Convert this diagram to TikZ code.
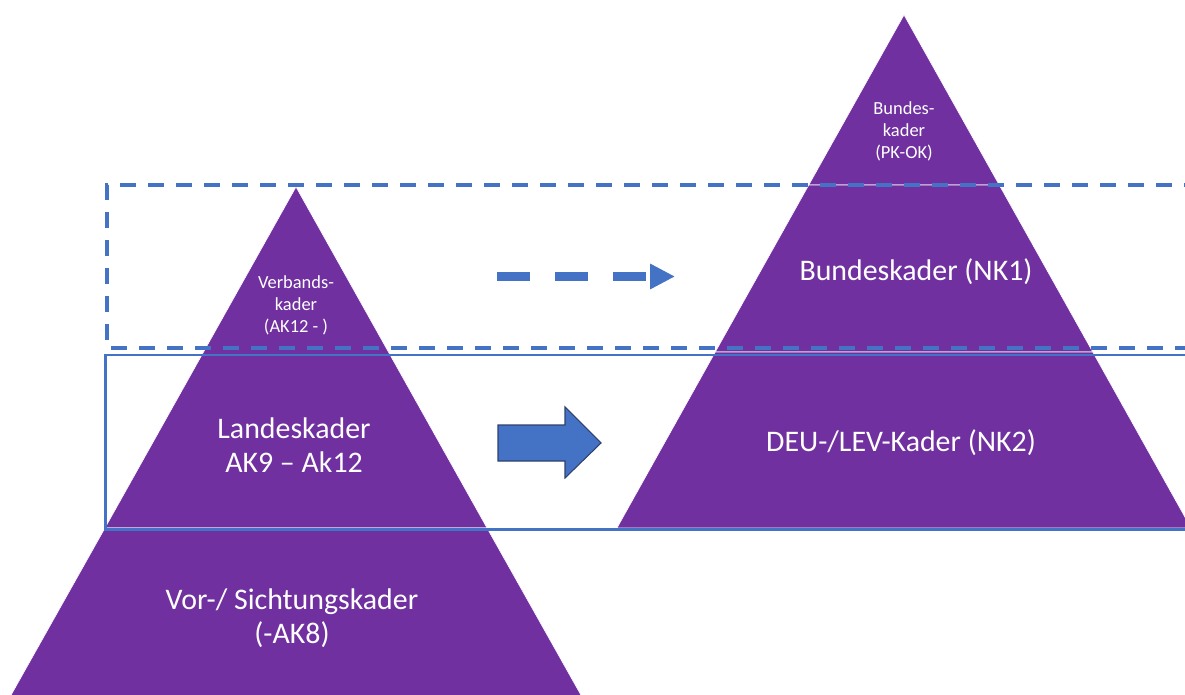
\documentclass[tikz,border=0pt]{standalone}
\usepackage{fontspec}
\setmainfont{Carlito}
\usepackage{tikz}
\usetikzlibrary{arrows.meta}
\usepackage{xcolor}
\definecolor{kader-purple}{RGB}{112,48,160}
\definecolor{frame-blue}{RGB}{68,114,196}
\definecolor{edge-blue}{RGB}{47,64,110}
\tikzstyle{level}=[fill=kader-purple, draw=white, line width=0.3pt]
\tikzstyle{bigtext}=[text=white, align=center, font=\fontsize{17}{19.5}\selectfont]
\tikzstyle{smalltext}=[text=white, align=center, font=\fontsize{10.5}{12.5}\selectfont]
\tikzstyle{dashframe}=[frame-blue, line width=0.08cm, dash pattern=on 0.32cm off 0.24cm]
\tikzstyle{solidframe}=[frame-blue, line width=0.06cm]
\tikzstyle{pyramid}=[x=0.02cm, y=-0.02cm]

\begin{document}
\begin{tikzpicture}[pyramid]
	\useasboundingbox (0,0) rectangle (1185,695);
	\clip (0,0) rectangle (1185,695);
	% left pyramid
	\filldraw[level] (296,187)--(201.9,355)--(390.1,355)--cycle;
	\filldraw[level] (201.9,355)--(105,528)--(487,528)--(390.1,355)--cycle;
	\filldraw[level] (105,528)--(10,697)--(582,697)--(487,528)--cycle;
	% right pyramid
	\filldraw[level] (904,15)--(808.8,185)--(999.2,185)--cycle;
	\filldraw[level] (808.8,185)--(715.3,352)--(1092.7,352)--(999.2,185)--cycle;
	\filldraw[level] (715.3,352)--(617,528)--(1191,528)--(1092.7,352)--cycle;
	% frames
	\draw[dashframe] (1200,185)--(107,185)--(107,348)--(1200,348);
	\draw[solidframe] (1200,355)--(105,355)--(105,529)--(1200,529);
	% arrows
	\coordinate (dstart) at (497,276.5);
	\coordinate (dend) at (675,276.5);
	\draw[frame-blue, line width=0.18cm, dash pattern=on 0.66cm off 0.5cm, -{Triangle[length=0.5cm, width=0.48cm]}] (dstart)--(dend);
	\filldraw[fill=frame-blue, draw=edge-blue, line width=0.6pt] (498,425)--(565,425)--(565,407)--(601,443)--(565,478)--(565,461)--(498,461)--cycle;
	% labels
	\node[smalltext] (verband) at (296,305) {Verbands-\\kader\\(AK12 - )};
	\node[bigtext] (landes) at (294,445) {Landeskader\\AK9 – Ak12};
	\node[bigtext] (sichtung) at (292,618) {Vor-/ Sichtungskader\\(-AK8)};
	\node[smalltext] (bundesok) at (904,131) {Bundes-\\kader\\(PK-OK)};
	\node[bigtext] (nk1) at (916,272) {Bundeskader (NK1)};
	\node[bigtext] (nk2) at (901,443) {DEU-/LEV-Kader (NK2)};
\end{tikzpicture}
\end{document}
